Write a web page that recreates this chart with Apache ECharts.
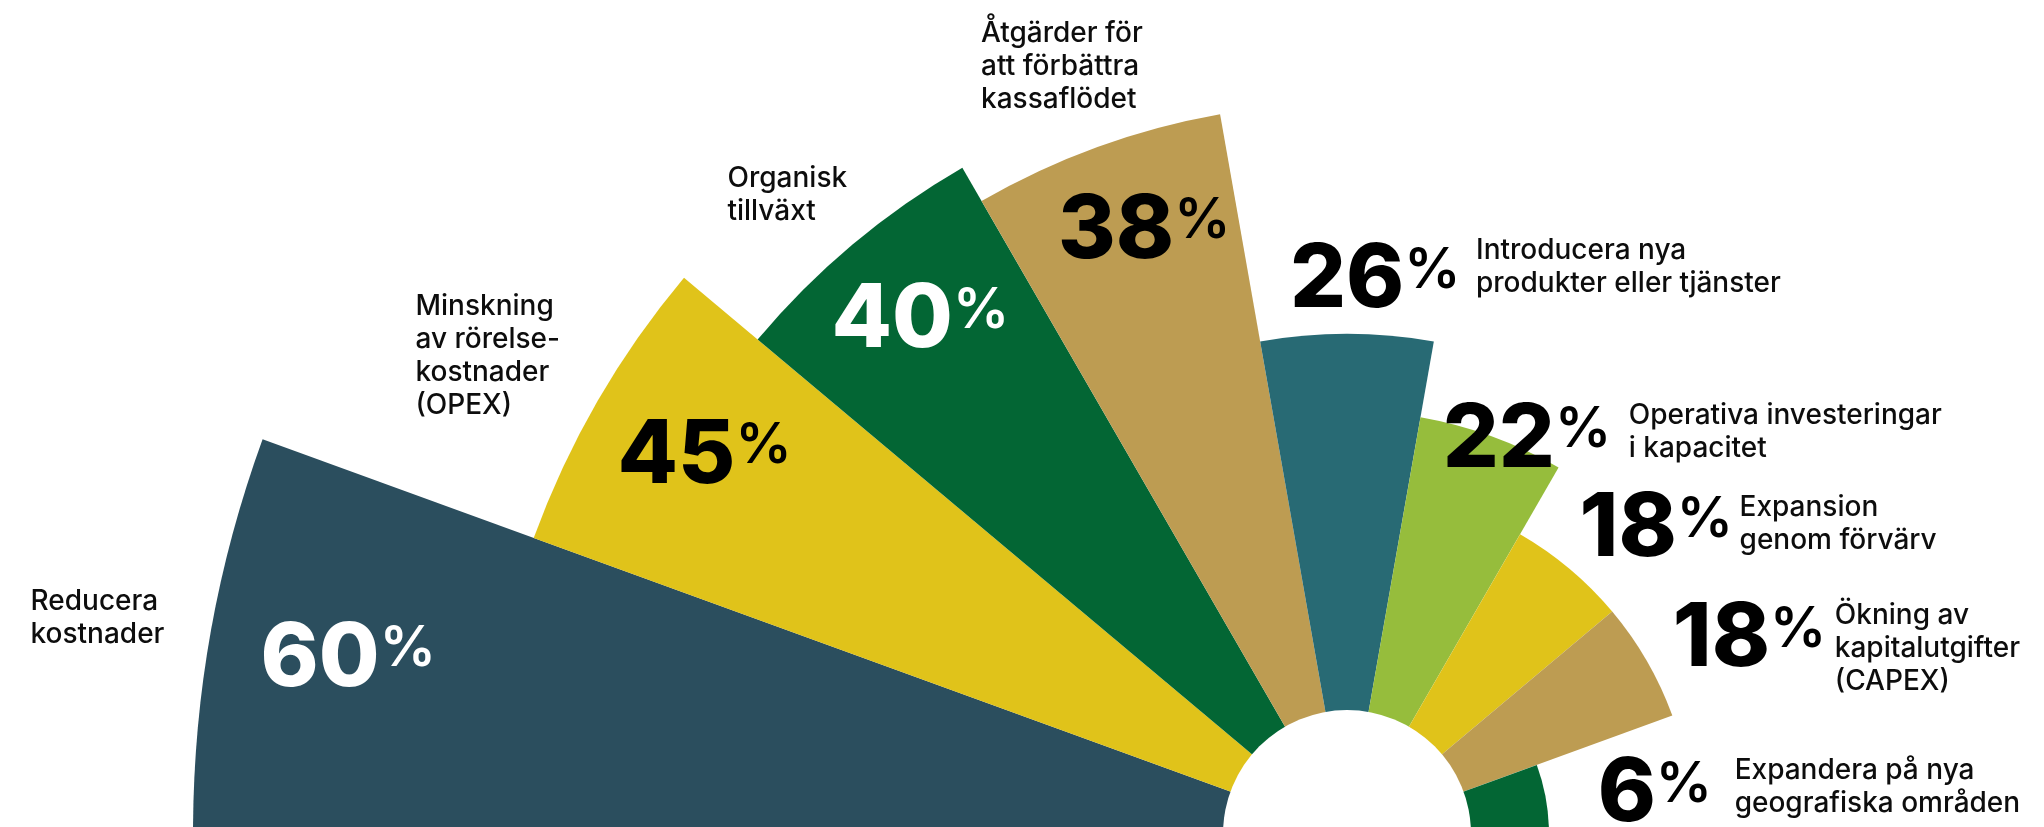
<!DOCTYPE html>
<html><head><meta charset="utf-8">
<script src="https://cdn.jsdelivr.net/npm/echarts@6/dist/echarts.min.js"></script>
<style>html,body{margin:0;padding:0;background:#fff}#c{width:2044px;height:827px}</style>
</head><body><div id="c"></div>
<script>
// ---- data ----
const categories = [
  'Reducera kostnader',
  'Minskning av rörelsekostnader (OPEX)',
  'Organisk tillväxt',
  'Åtgärder för att förbättra kassaflödet',
  'Introducera nya produkter eller tjänster',
  'Operativa investeringar i kapacitet',
  'Expansion genom förvärv',
  'Ökning av kapitalutgifter (CAPEX)',
  'Expandera på nya geografiska områden'
];
const nameLines = [
  ['Reducera', 'kostnader'],
  ['Minskning', 'av rörelse-', 'kostnader', '(OPEX)'],
  ['Organisk', 'tillväxt'],
  ['Åtgärder för', 'att förbättra', 'kassaflödet'],
  ['Introducera nya', 'produkter eller tjänster'],
  ['Operativa investeringar', 'i kapacitet'],
  ['Expansion', 'genom förvärv'],
  ['Ökning av', 'kapitalutgifter', '(CAPEX)'],
  ['Expandera på nya', 'geografiska områden']
];
const values = [60, 45, 40, 38, 26, 22, 18, 18, 6];

// ---- style ----
const colors = ['#2b4e5e', '#e0c31a', '#036634', '#bd9c52', '#286a74', '#96bd3c', '#e0c31a', '#bd9c52', '#036634'];
const pctColors = ['#ffffff', '#000000', '#ffffff', '#000000', '#000000', '#000000', '#000000', '#000000', '#000000'];
const pctOffset = [[50,26],[20,55],[-21,76],[-39,84],[-57,-53],[-49,4],[10,-39],[26,-21],[137,-19]];
const nameOffset = [[-180,-32],[-182,-95],[-125,-66],[-116,-114],[129,-83],[137,-21],[170,-61],[188,-45],[274,-43]];
const CENTER = [1347, 834];
const OUTER = 1154, HOLE = 124;
const NUM_FONT = 'Inter', NAME_FONT = 'Inter';
const NAME_SIZE = 28, NAME_LH = 33;

const chart = echarts.init(document.getElementById('c'), null, {renderer: 'canvas'});
chart.setOption({
  animation: false,
  backgroundColor: '#ffffff',
  polar: { center: CENTER, radius: [0, OUTER] },
  angleAxis: {
    type: 'category', data: categories, startAngle: 180, endAngle: 0, clockwise: true,
    show: false, axisLine: {show: false}, axisTick: {show: false}, axisLabel: {show: false}, splitLine: {show: false}
  },
  radiusAxis: {
    type: 'value', min: 0, max: 'dataMax', show: false,
    axisLine: {show: false}, axisTick: {show: false}, axisLabel: {show: false}, splitLine: {show: false}
  },
  series: [
    {
      type: 'bar', coordinateSystem: 'polar', data: values,
      barCategoryGap: '0%', barMinHeight: 202, z: 2,
      itemStyle: { color: p => colors[p.dataIndex] },
      emphasis: { disabled: true }, silent: true
    },
    {
      type: 'pie', center: CENTER, radius: [0, HOLE], z: 5, silent: true,
      data: [{ value: 1, itemStyle: { color: '#ffffff' } }],
      label: { show: false }, labelLine: { show: false }, emphasis: { disabled: true }
    },
    {
      type: 'custom', coordinateSystem: 'polar', z: 10, silent: true, clip: false,
      data: values.map((v, i) => [v, i]),
      renderItem: function (params, api) {
        const i = params.dataIndex;
        const pt = api.coord([api.value(0), api.value(1)]);
        const po = pctOffset[i], no = nameOffset[i];
        const c = pctColors[i];
        return {
          type: 'group',
          children: [
            {
              type: 'text', x: pt[0] + po[0], y: pt[1] + po[1],
              style: {
                text: '{n|' + values[i] + '}{p|%}',
                align: 'left', verticalAlign: 'middle',
                rich: {
                  n: { fontFamily: NUM_FONT, fontWeight: 800, fontSize: 88, lineHeight: 90, fill: c },
                  p: { fontFamily: NUM_FONT, fontWeight: 600, fontSize: 56, lineHeight: 70, height: 70, verticalAlign: 'top', fill: c }
                }
              }
            },
            {
              type: 'text', x: pt[0] + no[0], y: pt[1] + no[1] - NAME_LH / 2,
              style: {
                text: nameLines[i].join('\n'),
                fontFamily: NAME_FONT, fontSize: NAME_SIZE, fontWeight: 500, lineHeight: NAME_LH,
                fill: '#0d0d0d', align: 'left', verticalAlign: 'top'
              }
            }
          ]
        };
      }
    }
  ]
});
</script></body></html>
